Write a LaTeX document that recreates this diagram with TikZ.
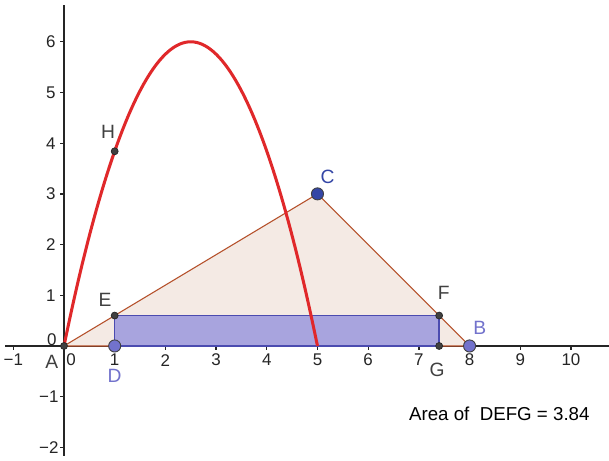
\documentclass[tikz,border=0pt]{standalone}
\usepackage{fontspec}
\setmainfont{Liberation Sans}
\usetikzlibrary{positioning}

\definecolor{axisgray}{HTML}{252525}
\definecolor{labgray}{HTML}{404040}
\definecolor{curvered}{HTML}{E0282A}
\definecolor{triedge}{HTML}{B5502A}
\definecolor{trifill}{HTML}{F4EAE4}
\definecolor{rectfill}{HTML}{A8A4DE}
\definecolor{rectedge}{HTML}{4B4BB0}
\definecolor{dotblue}{HTML}{3446A6}
\definecolor{dotviolet}{HTML}{7272CC}

\begin{document}
\begin{tikzpicture}[x=1cm, y=1cm,
    axisline/.style={draw=axisgray, line width=0.7pt},
    ticklab/.style={font=\fontsize{9.5}{10}\selectfont, text=axisgray, inner sep=0pt},
    ptlab/.style={font=\fontsize{10.8}{12}\selectfont, inner sep=0pt},
    smalldot/.style={circle, fill=labgray, draw=black!85, line width=0.4pt, inner sep=0pt, minimum size=3.9pt},
    bigdot/.style={circle, draw=black!75, line width=0.5pt, inner sep=0pt, minimum size=6.8pt}]
    \useasboundingbox[fill=white] (-1.262, -2.268) rectangle (10.75, 6.824);

    % points
    \coordinate (A) at (0, 0);
    \coordinate (B) at (8, 0);
    \coordinate (C) at (5, 3);
    \coordinate (D) at (1, 0);
    \coordinate (E) at (1, 0.6);
    \coordinate (F) at (7.4, 0.6);
    \coordinate (G) at (7.4, 0);
    \coordinate (H) at (1, 3.84);
    \coordinate (K) at (5, 0);
    \coordinate (V) at (2.5, 6);

    % axes
    \coordinate (xl) at (-1.16, 0);
    \coordinate (xr) at (10.75, 0);
    \coordinate (yb) at (0, -2.17);
    \coordinate (yt) at (0, 6.73);
    \draw[axisline] (xl) -- (xr);
    \draw[axisline] (yb) -- (yt);
    \foreach \i in {-1,1,2,...,10}
        \draw[axisline] (\i, 0) -- (\i, -0.08);
    \foreach \j in {-2,-1,1,2,...,6}
        \draw[axisline] (0, \j) -- (-0.08, \j);
    \node[ticklab] at (-1, -0.28) {−1};
    \foreach \i in {1,...,10}
        \node[ticklab] at (\i, -0.28) {\i};
    \node[ticklab] at (0.14, -0.28) {0};
    \node[ticklab] at (-0.3, -1) {−1};
    \node[ticklab] at (-0.3, -2) {−2};
    \foreach \j in {1,...,6}
        \node[ticklab] at (-0.26, \j) {\j};
    \node[ticklab] at (-0.24, 0.12) {0};

    % triangle and rectangle
    \filldraw[fill=trifill, draw=triedge, line width=0.6pt] (A) -- (B) -- (C) -- cycle;
    \filldraw[fill=rectfill, draw=rectedge, line width=0.8pt] (D) -- (E) -- (F) -- (G) -- cycle;

    % parabola
    \draw[curvered, line width=1.7pt] (A) parabola bend (V) (K);

    % dots
    \node[smalldot] (nA) at (A) {};
    \node[smalldot] (nE) at (E) {};
    \node[smalldot] (nF) at (F) {};
    \node[smalldot] (nG) at (G) {};
    \node[smalldot] (nH) at (H) {};
    \node[bigdot, fill=dotblue] (nC) at (C) {};
    \node[bigdot, fill=dotviolet] (nD) at (D) {};
    \node[bigdot, fill=dotviolet] (nB) at (B) {};

    % labels
    \node[ptlab, text=labgray] at (-0.24, -0.32) {A};
    \node[ptlab, text=dotviolet] at (1.0, -0.59) {D};
    \node[ptlab, text=labgray] at (0.81, 0.91) {E};
    \node[ptlab, text=labgray] at (7.49, 1.05) {F};
    \node[ptlab, text=labgray] at (7.36, -0.47) {G};
    \node[ptlab, text=dotviolet] at (8.2, 0.36) {B};
    \node[ptlab, text=dotblue] at (5.2, 3.33) {C};
    \node[ptlab, text=labgray] at (0.87, 4.22) {H};
    \node[font=\fontsize{10.5}{12}\selectfont, anchor=west, inner sep=0pt] (area) at (6.8, -1.34) {Area of\ \ DEFG = 3.84};
\end{tikzpicture}
\end{document}
